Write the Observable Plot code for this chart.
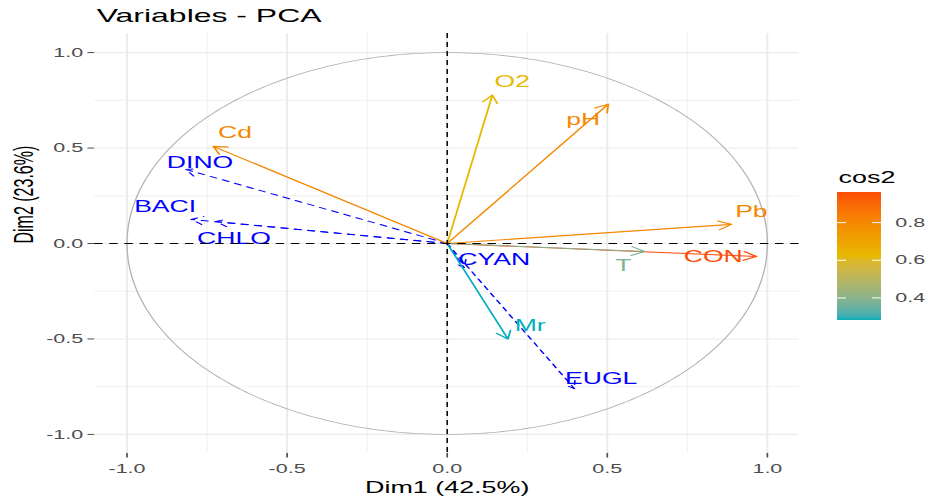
<!DOCTYPE html>
<html>
<head>
<meta charset="utf-8">
<script src="https://cdn.jsdelivr.net/npm/d3@7"></script>
<script src="https://cdn.jsdelivr.net/npm/@observablehq/plot@0.6"></script>
<style>
  html, body { margin: 0; padding: 0; background: white; overflow: hidden; }
  #wrap { position: relative; width: 552px; height: 503px; transform: scaleX(1.6812); transform-origin: 0 0;
          font-family: "Liberation Sans", Arial, sans-serif; }
  #title { height: 30px; box-sizing: border-box; padding-left: 57.5px; padding-top: 5.5px;
           font-size: 19px; line-height: 19px; color: #000; }
  #legtitle { position: absolute; left: 498.8px; top: 169.5px; font-size: 16px; line-height: 16px; color: #000; }
  #legend { position: absolute; left: 498px; top: 185px; width: 62px; height: 140px; }
  #legend svg, #chart svg { max-width: none !important; }
</style>
</head>
<body>
<div id="wrap">
  <div id="title">Variables - PCA</div>
  <div id="chart"></div>
  <div id="legtitle">cos2</div>
  <div id="legend"></div>
</div>
<script>
// Active variables (coloured by cos2)
const activeNames = ["O2", "pH", "Pb", "CON", "T", "Cd", "Mr"];
const activeDim1  = [0.141, 0.503, 0.888, 0.966, 0.616, -0.731, 0.19];
const activeDim2  = [0.777, 0.73, 0.10, -0.068, -0.042, 0.509, -0.5];
const activeCos2  = [0.62, 0.79, 0.80, 0.96, 0.38, 0.80, 0.28];
const activeLabelX = [0.203, 0.425, 0.95, 0.831, 0.55, -0.6625, 0.259];
const activeLabelY = [0.845, 0.646, 0.163, -0.073, -0.115, 0.577, -0.43];

// Supplementary variables (blue, dashed)
const supNames = ["DINO", "BACI", "CHLO", "CYAN", "EUGL"];
const supDim1  = [-0.816, -0.80, -0.722, 0.053, 0.397];
const supDim2  = [0.388, 0.126, 0.115, -0.126, -0.76];
const supLabelX = [-0.772, -0.881, -0.666, 0.147, 0.481];
const supLabelY = [0.42, 0.189, 0.026, -0.084, -0.709];

// Axis / legend text
const xTitle = "Dim1 (42.5%)";
const yTitle = "Dim2 (23.6%)";
const axisTicks = [-1, -0.5, 0, 0.5, 1];
const minorTicks = [-0.75, -0.25, 0.25, 0.75];
const legendTicks = [0.4, 0.6, 0.8];
const gradientCols = ["#00AFBB", "#E7B800", "#FC4E07"];

const active = activeNames.map((n, i) => ({name: n, x: activeDim1[i], y: activeDim2[i], cos2: activeCos2[i], lx: activeLabelX[i], ly: activeLabelY[i]}));
const sup = supNames.map((n, i) => ({name: n, x: supDim1[i], y: supDim2[i], lx: supLabelX[i], ly: supLabelY[i]}));

const [lo, hi] = d3.extent(activeCos2);
const colorOpts = {type: "linear", domain: [lo, (lo + hi) / 2, hi], range: gradientCols, interpolate: "lab"};

const circle = d3.range(0, 361, 1).map(a => ({x: Math.cos(a * Math.PI / 180), y: Math.sin(a * Math.PI / 180)}));
const fmt = d => d.toFixed(1);
const FONT = "Liberation Sans, Arial, sans-serif";

const chart = Plot.plot({
  width: 552, height: 473,
  marginTop: 3, marginBottom: 50, marginLeft: 56, marginRight: 77,
  style: {fontFamily: FONT, fontSize: "12.8px", background: "white", overflow: "visible", maxWidth: "none"},
  x: {domain: [-1.1, 1.1]},
  y: {domain: [-1.1, 1.1]},
  color: colorOpts,
  marks: [
    Plot.gridX(minorTicks, {stroke: "#EBEBEB", strokeOpacity: 1, strokeWidth: 0.55}),
    Plot.gridY(minorTicks, {stroke: "#EBEBEB", strokeOpacity: 1, strokeWidth: 0.55}),
    Plot.gridX(axisTicks, {stroke: "#EBEBEB", strokeOpacity: 1, strokeWidth: 1.1}),
    Plot.gridY(axisTicks, {stroke: "#EBEBEB", strokeOpacity: 1, strokeWidth: 1.1}),
    Plot.axisX({ticks: axisTicks, tickFormat: fmt, tickSize: 4.5, tickPadding: 6, color: "#4D4D4D", label: null, fontSize: 12.8}),
    Plot.axisY({ticks: axisTicks, tickFormat: fmt, tickSize: 4, tickPadding: 3, color: "#4D4D4D", label: null, fontSize: 12.8}),
    Plot.line(circle, {x: "x", y: "y", stroke: "#B3B3B3", strokeWidth: 0.8}),
    Plot.arrow(sup, {x1: 0, y1: 0, x2: "x", y2: "y", stroke: "#0000FF", strokeWidth: 1, strokeDasharray: "4,4", headLength: 12}),
    Plot.arrow(active, {x1: 0, y1: 0, x2: "x", y2: "y", stroke: "cos2", strokeWidth: 1.1, headLength: 12}),
    Plot.text(sup, {x: "lx", y: "ly", text: "name", fill: "#0000FF", fontSize: 15.8}),
    Plot.text(active, {x: "lx", y: "ly", text: "name", fill: "cos2", fontSize: 15.8}),
    Plot.ruleY([0], {stroke: "black", strokeWidth: 0.9, strokeDasharray: "5,4"}),
    Plot.ruleX([0], {stroke: "black", strokeWidth: 0.9, strokeDasharray: "5,4"}),
    Plot.text([xTitle], {frameAnchor: "bottom", dy: 39, fontSize: 16, fill: "black"}),
    Plot.text([yTitle], {frameAnchor: "left", dx: -42, rotate: -90, fontSize: 16, fill: "black"})
  ]
});
document.getElementById("chart").appendChild(chart);

// Colour bar legend
const N = 200;
const stepH = (hi - lo) / N;
const steps = d3.range(N).map(i => lo + stepH * i);
const legend = Plot.plot({
  width: 62, height: 140,
  marginTop: 7, marginBottom: 5, marginLeft: 0, marginRight: 36,
  style: {fontFamily: FONT, fontSize: "12.8px", background: "transparent", overflow: "visible", maxWidth: "none"},
  x: {domain: [0, 1], axis: null},
  y: {domain: [lo, hi]},
  color: colorOpts,
  marks: [
    Plot.rect(steps, {x1: 0, x2: 1, y1: d => d, y2: d => Math.min(hi, d + stepH * 1.5), fill: d => d + stepH / 2, shapeRendering: "crispEdges"}),
    Plot.ruleY(legendTicks, {x1: 0, x2: 0.2, stroke: "white", strokeWidth: 1}),
    Plot.ruleY(legendTicks, {x1: 0.8, x2: 1, stroke: "white", strokeWidth: 1}),
    Plot.axisY({anchor: "right", ticks: legendTicks, tickFormat: fmt, tickSize: 0, tickPadding: 8, color: "#4D4D4D", label: null, fontSize: 12.8})
  ]
});
document.getElementById("legend").appendChild(legend);
</script>
</body>
</html>
